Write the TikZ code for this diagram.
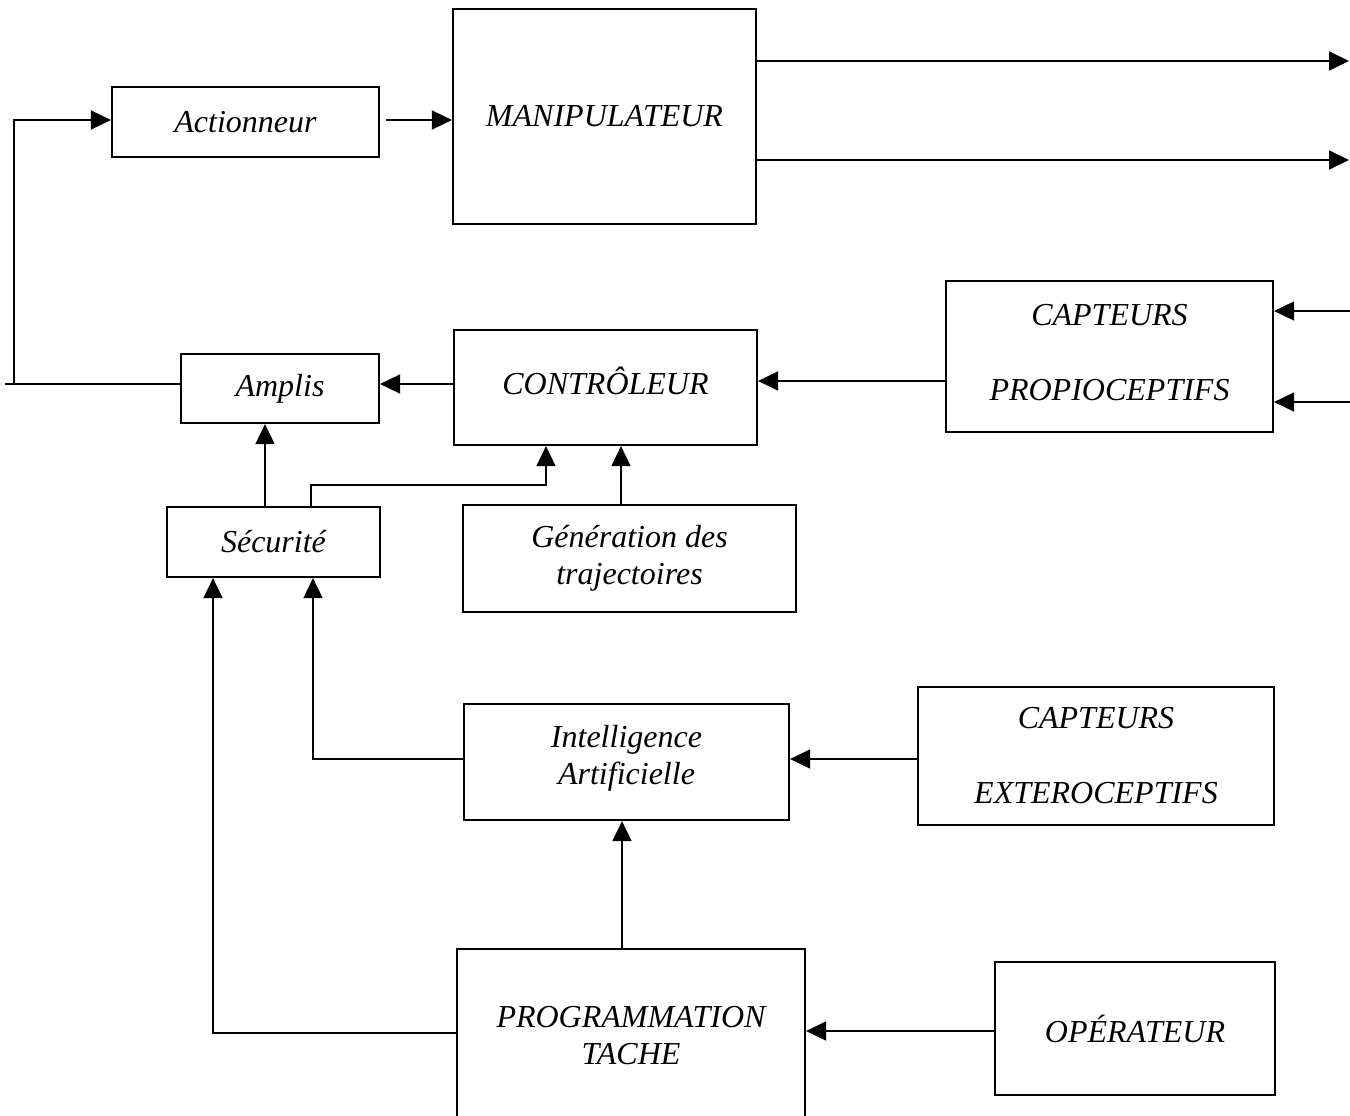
\documentclass[tikz,border=0pt]{standalone}
\usepackage{fontspec}
\setmainfont{Liberation Serif}
\usetikzlibrary{arrows.meta,calc}
% invisible strut that lowers the bottom of a node's text
\newcommand{\lowfoot}[1]{\rule[-#1]{0pt}{#1}}
\begin{document}
\begin{tikzpicture}[x=1pt,y=-1pt,
  blk/.style={draw,line width=2.2pt,inner sep=0pt,align=center,
    font=\fontsize{32}{37}\selectfont\itshape},
  link/.style={line width=1.8pt},
  arr/.style={link,-{Triangle[length=20pt,width=19pt]}}]
\useasboundingbox (0,0) rectangle (1350,1116);

% blocks
\node[blk,minimum width=267,minimum height=70]  (act)   at (245.5,122)  {Actionneur};
\node[blk,minimum width=303,minimum height=215] (manip) at (604.5,116.5) {MANIPULATEUR};
\node[blk,minimum width=327,minimum height=151] (propio) at (1109.5,356.5) {CAPTEURS\\[38pt]PROPIOCEPTIFS\lowfoot{9pt}};
\node[blk,minimum width=303,minimum height=115] (ctrl)  at (605.5,387.5) {CONTRÔLEUR\lowfoot{14pt}};
\node[blk,minimum width=198,minimum height=69]  (amp)   at (280,388.5)  {Amplis};
\node[blk,minimum width=213,minimum height=70]  (sec)   at (273.5,542)  {Sécurité};
\node[blk,minimum width=333,minimum height=107] (gen)   at (629.5,558.5) {Génération des\\trajectoires};
\node[blk,minimum width=325,minimum height=116] (ia)    at (626.5,762)  {Intelligence\\Artificielle\lowfoot{15pt}};
\node[blk,minimum width=356,minimum height=138] (extero) at (1096,756)  {CAPTEURS\\[38pt]EXTEROCEPTIFS};
\node[blk,minimum width=348,minimum height=174] (prog)  at (631,1036)   {PROGRAMMATION\\TACHE};
\node[blk,minimum width=280,minimum height=133] (oper)  at (1135,1028.5) {OPÉRATEUR};

% free ends on the right border and the left feedback loop
\coordinate (out1) at (1349,61);
\coordinate (out2) at (1349,160);
\coordinate (in1)  at (1350,311);
\coordinate (in2)  at (1350,402);
\coordinate (fbend) at (5,384);
\coordinate (fbcor) at (14,384);

% connectors
\draw[arr,shorten <=6pt] (act.east |- 0,120) -- (manip.west |- 0,120);
\draw[arr] (manip.east |- out1) -- (out1);
\draw[arr] (manip.east |- out2) -- (out2);
\draw[arr] (in1) -- (propio.east |- in1);
\draw[arr] (in2) -- (propio.east |- in2);
\draw[arr] (propio.west |- 0,381) -- (ctrl.east |- 0,381);
\draw[arr] (ctrl.west |- 0,384) -- (amp.east |- 0,384);
\draw[link] (amp.west |- fbend) -- (fbend);
\draw[arr] (fbcor) |- (act.west |- 0,120);
\draw[arr] (sec.north -| 265,0) -- (amp.south -| 265,0);
\draw[arr] (sec.north -| 311,0) -- (311,485) -| (ctrl.south -| 546,0);
\draw[arr] (gen.north -| 621,0) -- (ctrl.south -| 621,0);
\draw[arr] (ia.west |- 0,759) -| (sec.south -| 313,0);
\draw[arr] (extero.west |- 0,759) -- (ia.east |- 0,759);
\draw[arr] (prog.north -| 622,0) -- (ia.south -| 622,0);
\draw[arr] (prog.west |- 0,1033) -| (sec.south -| 213,0);
\draw[arr] (oper.west |- 0,1031) -- (prog.east |- 0,1031);
\end{tikzpicture}
\end{document}
